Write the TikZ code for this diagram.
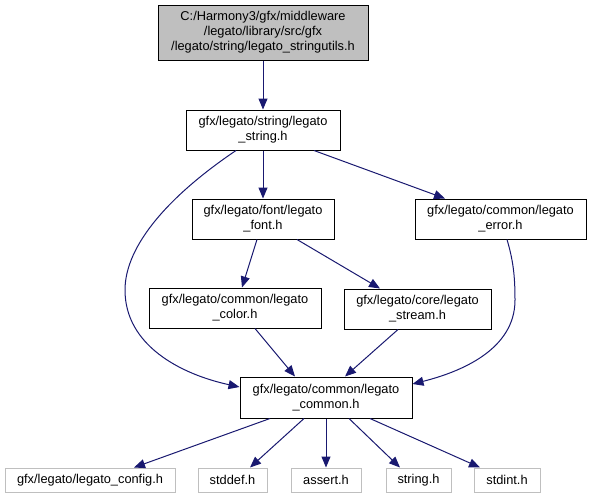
\documentclass[tikz,border=0pt]{standalone}
\usepackage{fontspec}
\setmainfont{Liberation Sans}
\usetikzlibrary{arrows.meta}
\definecolor{edgeblue}{HTML}{191970}
\definecolor{leafgray}{HTML}{BFBFBF}
\tikzset{
  box/.style={draw=black, line width=1pt, fill=white, rectangle, inner sep=0pt, align=center,
    font=\fontsize{12.8pt}{15pt}\selectfont, minimum height=40pt},
  rootbox/.style={box, fill=leafgray, minimum height=55pt},
  leafbox/.style={box, draw=leafgray, minimum height=24pt},
  dep/.style={draw=edgeblue, line width=1pt, -{Triangle[length=11pt,width=9pt,fill=edgeblue]}}
}
\begin{document}
\begin{tikzpicture}[x=1pt,y=-1pt]
\useasboundingbox (0,0) rectangle (591,499);
\node[rootbox, minimum width=210pt] (top) at (263,32.5) {C:/Harmony3/gfx/middleware\\/legato/library/src/gfx\\/legato/string/legato\_stringutils.h};
\node[box, minimum width=154pt] (str) at (263,130) {gfx/legato/string/legato\\\_string.h};
\node[box, minimum width=142pt] (font) at (263,219) {gfx/legato/font/legato\\\_font.h};
\node[box, minimum width=171pt] (err) at (500.5,219) {gfx/legato/common/legato\\\_error.h};
\node[box, minimum width=172pt] (col) at (235,308) {gfx/legato/common/legato\\\_color.h};
\node[box, minimum width=147pt] (stream) at (417.5,309) {gfx/legato/core/legato\\\_stream.h};
\node[box, minimum width=172pt, minimum height=41pt] (com) at (326,397.5) {gfx/legato/common/legato\\\_common.h};
\node[leafbox, minimum width=170pt] (cfg) at (90,480) {gfx/legato/legato\_config.h};
\node[leafbox, minimum width=69pt] (stddef) at (232.5,480) {stddef.h};
\node[leafbox, minimum width=70pt] (assert) at (326,480) {assert.h};
\node[leafbox, minimum width=65pt] (strh) at (418.5,480) {string.h};
\node[leafbox, minimum width=66pt] (stdint) at (507,480) {stdint.h};

\draw[dep] (top.south) -- (str.north);
\draw[dep] (str.south) -- (font.north);
\draw[dep] ([xshift=51pt]str.south) -- ([xshift=-55.5pt]err.north);
\draw[dep] ([xshift=-27pt]str.south) .. controls (170,195) and (125,245) .. (125,290)
   .. controls (125,345) and (180,374) .. ([yshift=10.5pt]com.west);
\draw[dep] ([xshift=-6pt]font.south) -- ([xshift=7pt]col.north);
\draw[dep] ([xshift=34pt]font.south) -- ([xshift=-37.5pt]stream.north);
\draw[dep] ([xshift=20pt]col.south) -- ([xshift=-31pt]com.north);
\draw[dep] ([xshift=-19.5pt]stream.south) -- ([xshift=19pt]com.north);
\draw[dep] ([xshift=6.5pt]err.south) .. controls (513,260) and (515,275) .. (515,300)
   .. controls (515,350) and (460,372) .. ([yshift=13.5pt]com.east);
\draw[dep] ([xshift=-56pt]com.south) -- ([xshift=44pt]cfg.north);
\draw[dep] ([xshift=-22pt]com.south) -- ([xshift=17.5pt]stddef.north);
\draw[dep] (com.south) -- (assert.north);
\draw[dep] ([xshift=23pt]com.south) -- ([xshift=-18.5pt]strh.north);
\draw[dep] ([xshift=44pt]com.south) -- ([xshift=-27pt]stdint.north);
\end{tikzpicture}
\end{document}
